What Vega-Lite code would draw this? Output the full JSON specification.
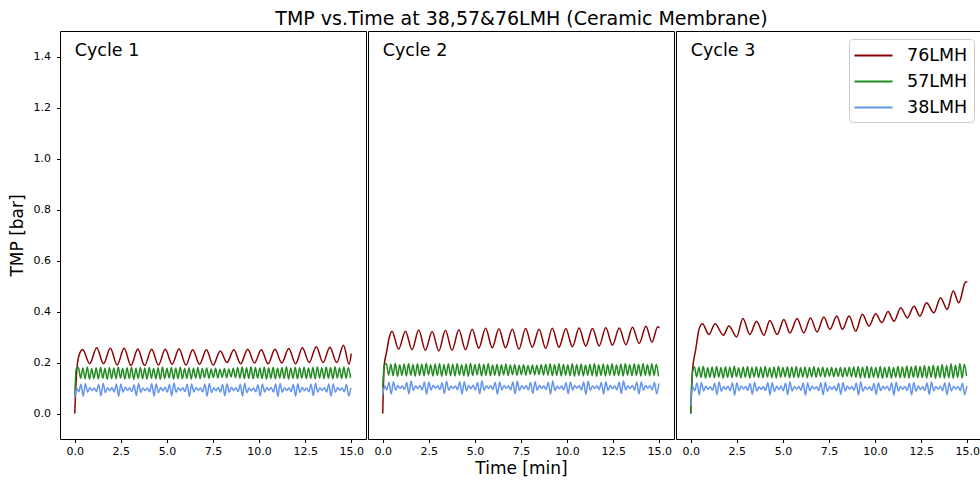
{
"$schema": "https://vega.github.io/schema/vega-lite/v6.json",
"padding": {"left": 7, "top": 9, "right": 1, "bottom": 4},
"spacing": 0,
"title": {"text": "TMP vs.Time at 38,57&76LMH (Ceramic Membrane)", "fontSize": 19, "fontWeight": "normal", "font": "DejaVu Sans", "color": "#000", "offset": 2, "anchor": "start", "align": "center", "dx": 514},
"resolve": {"scale": {"color": "independent"}, "legend": {"color": "independent"}},
"config": {
  "font": "DejaVu Sans",
  "view": {"stroke": "#000", "strokeWidth": 1},
  "axis": {"grid": false, "domain": false, "tickColor": "#000", "tickSize": 3.5, "labelFontSize": 11, "labelColor": "#000", "titleFontSize": 17, "titleFontWeight": "normal", "titleColor": "#000", "labelFlush": false, "labelOverlap": false},
  "axisY": {"labelPadding": 6, "titlePadding": 7},
  "axisX": {"labelPadding": 3, "titlePadding": 4}
},
"datasets": {
"r1": [{"t":0,"v":0},{"t":0.11,"v":0.17},{"t":0.22,"v":0.225},{"t":0.43,"v":0.251},{"t":0.81,"v":0.195},{"t":1.19,"v":0.258},{"t":1.56,"v":0.195},{"t":1.93,"v":0.256},{"t":2.3,"v":0.19},{"t":2.68,"v":0.256},{"t":3.05,"v":0.188},{"t":3.42,"v":0.253},{"t":3.79,"v":0.188},{"t":4.17,"v":0.252},{"t":4.54,"v":0.19},{"t":4.91,"v":0.252},{"t":5.28,"v":0.193},{"t":5.66,"v":0.254},{"t":6.03,"v":0.19},{"t":6.4,"v":0.25},{"t":6.77,"v":0.193},{"t":7.14,"v":0.25},{"t":7.51,"v":0.19},{"t":7.89,"v":0.245},{"t":8.26,"v":0.2},{"t":8.63,"v":0.25},{"t":9.0,"v":0.195},{"t":9.38,"v":0.252},{"t":9.75,"v":0.198},{"t":10.12,"v":0.25},{"t":10.49,"v":0.195},{"t":10.86,"v":0.252},{"t":11.23,"v":0.198},{"t":11.61,"v":0.255},{"t":11.98,"v":0.195},{"t":12.35,"v":0.258},{"t":12.72,"v":0.2},{"t":13.1,"v":0.262},{"t":13.47,"v":0.2},{"t":13.84,"v":0.26},{"t":14.21,"v":0.2},{"t":14.58,"v":0.268},{"t":14.88,"v":0.193},{"t":15.0,"v":0.235}],
"g1": [{"t":0,"v":0.07},{"t":0.08,"v":0.175},{"t":0.2,"v":0.18},{"t":0.32,"v":0.138},{"t":0.44,"v":0.178},{"t":0.56,"v":0.136},{"t":0.68,"v":0.182},{"t":0.8,"v":0.134},{"t":0.92,"v":0.176},{"t":1.04,"v":0.137},{"t":1.16,"v":0.179},{"t":1.28,"v":0.135},{"t":1.4,"v":0.181},{"t":1.52,"v":0.138},{"t":1.64,"v":0.177},{"t":1.76,"v":0.134},{"t":1.88,"v":0.18},{"t":2.0,"v":0.137},{"t":2.12,"v":0.178},{"t":2.24,"v":0.136},{"t":2.36,"v":0.182},{"t":2.48,"v":0.139},{"t":2.6,"v":0.176},{"t":2.72,"v":0.135},{"t":2.84,"v":0.179},{"t":2.96,"v":0.137},{"t":3.08,"v":0.181},{"t":3.2,"v":0.134},{"t":3.32,"v":0.177},{"t":3.44,"v":0.138},{"t":3.56,"v":0.18},{"t":3.68,"v":0.136},{"t":3.8,"v":0.178},{"t":3.92,"v":0.135},{"t":4.04,"v":0.181},{"t":4.16,"v":0.138},{"t":4.28,"v":0.176},{"t":4.4,"v":0.136},{"t":4.52,"v":0.179},{"t":4.64,"v":0.134},{"t":4.76,"v":0.182},{"t":4.88,"v":0.137},{"t":5.0,"v":0.177},{"t":5.12,"v":0.139},{"t":5.24,"v":0.18},{"t":5.36,"v":0.135},{"t":5.48,"v":0.178},{"t":5.6,"v":0.137},{"t":5.72,"v":0.181},{"t":5.84,"v":0.136},{"t":5.96,"v":0.176},{"t":6.08,"v":0.138},{"t":6.2,"v":0.179},{"t":6.32,"v":0.135},{"t":6.44,"v":0.177},{"t":6.56,"v":0.139},{"t":6.68,"v":0.18},{"t":6.8,"v":0.137},{"t":6.92,"v":0.176},{"t":7.04,"v":0.14},{"t":7.16,"v":0.178},{"t":7.28,"v":0.138},{"t":7.4,"v":0.175},{"t":7.52,"v":0.141},{"t":7.64,"v":0.177},{"t":7.76,"v":0.139},{"t":7.88,"v":0.174},{"t":8.0,"v":0.142},{"t":8.12,"v":0.176},{"t":8.24,"v":0.14},{"t":8.36,"v":0.175},{"t":8.48,"v":0.143},{"t":8.6,"v":0.177},{"t":8.72,"v":0.141},{"t":8.84,"v":0.18},{"t":8.96,"v":0.139},{"t":9.08,"v":0.182},{"t":9.2,"v":0.137},{"t":9.32,"v":0.179},{"t":9.44,"v":0.138},{"t":9.56,"v":0.183},{"t":9.68,"v":0.136},{"t":9.8,"v":0.18},{"t":9.92,"v":0.139},{"t":10.04,"v":0.178},{"t":10.16,"v":0.137},{"t":10.28,"v":0.182},{"t":10.4,"v":0.135},{"t":10.52,"v":0.179},{"t":10.64,"v":0.138},{"t":10.76,"v":0.181},{"t":10.88,"v":0.136},{"t":11.0,"v":0.177},{"t":11.12,"v":0.139},{"t":11.24,"v":0.18},{"t":11.36,"v":0.137},{"t":11.48,"v":0.183},{"t":11.6,"v":0.135},{"t":11.72,"v":0.178},{"t":11.84,"v":0.138},{"t":11.96,"v":0.181},{"t":12.08,"v":0.136},{"t":12.2,"v":0.179},{"t":12.32,"v":0.139},{"t":12.44,"v":0.182},{"t":12.56,"v":0.137},{"t":12.68,"v":0.178},{"t":12.8,"v":0.138},{"t":12.92,"v":0.181},{"t":13.04,"v":0.136},{"t":13.16,"v":0.183},{"t":13.28,"v":0.139},{"t":13.4,"v":0.179},{"t":13.52,"v":0.137},{"t":13.64,"v":0.182},{"t":13.76,"v":0.138},{"t":13.88,"v":0.18},{"t":14.0,"v":0.136},{"t":14.12,"v":0.183},{"t":14.24,"v":0.139},{"t":14.36,"v":0.179},{"t":14.48,"v":0.137},{"t":14.6,"v":0.182},{"t":14.72,"v":0.138},{"t":14.84,"v":0.18},{"t":14.96,"v":0.14}],
"b1": [{"t":0,"v":0.06},{"t":0.1,"v":0.101},{"t":0.22,"v":0.085},{"t":0.34,"v":0.115},{"t":0.46,"v":0.068},{"t":0.58,"v":0.117},{"t":0.7,"v":0.083},{"t":0.82,"v":0.102},{"t":0.94,"v":0.09},{"t":1.06,"v":0.1},{"t":1.18,"v":0.086},{"t":1.3,"v":0.114},{"t":1.42,"v":0.069},{"t":1.54,"v":0.119},{"t":1.66,"v":0.082},{"t":1.78,"v":0.101},{"t":1.9,"v":0.089},{"t":2.02,"v":0.102},{"t":2.14,"v":0.084},{"t":2.26,"v":0.116},{"t":2.38,"v":0.067},{"t":2.5,"v":0.116},{"t":2.62,"v":0.084},{"t":2.74,"v":0.103},{"t":2.86,"v":0.091},{"t":2.98,"v":0.101},{"t":3.1,"v":0.086},{"t":3.22,"v":0.113},{"t":3.34,"v":0.07},{"t":3.46,"v":0.118},{"t":3.58,"v":0.083},{"t":3.7,"v":0.1},{"t":3.82,"v":0.09},{"t":3.94,"v":0.1},{"t":4.06,"v":0.085},{"t":4.18,"v":0.117},{"t":4.3,"v":0.068},{"t":4.42,"v":0.117},{"t":4.54,"v":0.081},{"t":4.66,"v":0.102},{"t":4.78,"v":0.089},{"t":4.9,"v":0.103},{"t":5.02,"v":0.084},{"t":5.14,"v":0.114},{"t":5.26,"v":0.069},{"t":5.38,"v":0.12},{"t":5.5,"v":0.083},{"t":5.62,"v":0.101},{"t":5.74,"v":0.09},{"t":5.86,"v":0.101},{"t":5.98,"v":0.086},{"t":6.1,"v":0.115},{"t":6.22,"v":0.067},{"t":6.34,"v":0.116},{"t":6.46,"v":0.084},{"t":6.58,"v":0.102},{"t":6.7,"v":0.091},{"t":6.82,"v":0.1},{"t":6.94,"v":0.085},{"t":7.06,"v":0.116},{"t":7.18,"v":0.068},{"t":7.3,"v":0.118},{"t":7.42,"v":0.082},{"t":7.54,"v":0.101},{"t":7.66,"v":0.089},{"t":7.78,"v":0.102},{"t":7.9,"v":0.084},{"t":8.02,"v":0.114},{"t":8.14,"v":0.07},{"t":8.26,"v":0.117},{"t":8.38,"v":0.083},{"t":8.5,"v":0.103},{"t":8.62,"v":0.09},{"t":8.74,"v":0.101},{"t":8.86,"v":0.086},{"t":8.98,"v":0.115},{"t":9.1,"v":0.068},{"t":9.22,"v":0.119},{"t":9.34,"v":0.082},{"t":9.46,"v":0.1},{"t":9.58,"v":0.089},{"t":9.7,"v":0.1},{"t":9.82,"v":0.085},{"t":9.94,"v":0.113},{"t":10.06,"v":0.069},{"t":10.18,"v":0.116},{"t":10.3,"v":0.084},{"t":10.42,"v":0.102},{"t":10.54,"v":0.091},{"t":10.66,"v":0.102},{"t":10.78,"v":0.084},{"t":10.9,"v":0.116},{"t":11.02,"v":0.067},{"t":11.14,"v":0.118},{"t":11.26,"v":0.083},{"t":11.38,"v":0.101},{"t":11.5,"v":0.09},{"t":11.62,"v":0.101},{"t":11.74,"v":0.086},{"t":11.86,"v":0.114},{"t":11.98,"v":0.068},{"t":12.1,"v":0.117},{"t":12.22,"v":0.082},{"t":12.34,"v":0.103},{"t":12.46,"v":0.089},{"t":12.58,"v":0.1},{"t":12.7,"v":0.085},{"t":12.82,"v":0.115},{"t":12.94,"v":0.07},{"t":13.06,"v":0.119},{"t":13.18,"v":0.084},{"t":13.3,"v":0.101},{"t":13.42,"v":0.09},{"t":13.54,"v":0.102},{"t":13.66,"v":0.084},{"t":13.78,"v":0.116},{"t":13.9,"v":0.068},{"t":14.02,"v":0.116},{"t":14.14,"v":0.083},{"t":14.26,"v":0.102},{"t":14.38,"v":0.091},{"t":14.5,"v":0.101},{"t":14.62,"v":0.085},{"t":14.74,"v":0.114},{"t":14.86,"v":0.069},{"t":14.98,"v":0.1}],
"r2": [{"t":0,"v":0},{"t":0.08,"v":0.19},{"t":0.2,"v":0.238},{"t":0.35,"v":0.297},{"t":0.5,"v":0.323},{"t":0.86,"v":0.252},{"t":1.23,"v":0.323},{"t":1.59,"v":0.25},{"t":1.95,"v":0.327},{"t":2.31,"v":0.248},{"t":2.68,"v":0.322},{"t":3.04,"v":0.245},{"t":3.4,"v":0.326},{"t":3.76,"v":0.248},{"t":4.13,"v":0.328},{"t":4.49,"v":0.25},{"t":4.85,"v":0.33},{"t":5.21,"v":0.256},{"t":5.58,"v":0.334},{"t":5.94,"v":0.258},{"t":6.3,"v":0.332},{"t":6.66,"v":0.258},{"t":7.03,"v":0.33},{"t":7.39,"v":0.252},{"t":7.75,"v":0.333},{"t":8.11,"v":0.26},{"t":8.48,"v":0.33},{"t":8.84,"v":0.255},{"t":9.2,"v":0.334},{"t":9.56,"v":0.26},{"t":9.93,"v":0.332},{"t":10.29,"v":0.262},{"t":10.65,"v":0.335},{"t":11.01,"v":0.265},{"t":11.38,"v":0.333},{"t":11.74,"v":0.265},{"t":12.1,"v":0.336},{"t":12.46,"v":0.268},{"t":12.83,"v":0.335},{"t":13.19,"v":0.27},{"t":13.55,"v":0.338},{"t":13.91,"v":0.275},{"t":14.28,"v":0.342},{"t":14.6,"v":0.28},{"t":14.92,"v":0.34},{"t":15.02,"v":0.335}],
"g2": [{"t":0,"v":0.1},{"t":0.08,"v":0.19},{"t":0.2,"v":0.195},{"t":0.32,"v":0.15},{"t":0.44,"v":0.193},{"t":0.56,"v":0.148},{"t":0.68,"v":0.197},{"t":0.8,"v":0.146},{"t":0.92,"v":0.191},{"t":1.04,"v":0.149},{"t":1.16,"v":0.194},{"t":1.28,"v":0.147},{"t":1.4,"v":0.196},{"t":1.52,"v":0.15},{"t":1.64,"v":0.192},{"t":1.76,"v":0.146},{"t":1.88,"v":0.195},{"t":2.0,"v":0.149},{"t":2.12,"v":0.193},{"t":2.24,"v":0.148},{"t":2.36,"v":0.197},{"t":2.48,"v":0.151},{"t":2.6,"v":0.191},{"t":2.72,"v":0.147},{"t":2.84,"v":0.194},{"t":2.96,"v":0.149},{"t":3.08,"v":0.196},{"t":3.2,"v":0.146},{"t":3.32,"v":0.192},{"t":3.44,"v":0.15},{"t":3.56,"v":0.195},{"t":3.68,"v":0.148},{"t":3.8,"v":0.193},{"t":3.92,"v":0.147},{"t":4.04,"v":0.196},{"t":4.16,"v":0.15},{"t":4.28,"v":0.191},{"t":4.4,"v":0.148},{"t":4.52,"v":0.194},{"t":4.64,"v":0.146},{"t":4.76,"v":0.197},{"t":4.88,"v":0.149},{"t":5.0,"v":0.192},{"t":5.12,"v":0.151},{"t":5.24,"v":0.195},{"t":5.36,"v":0.147},{"t":5.48,"v":0.193},{"t":5.6,"v":0.149},{"t":5.72,"v":0.196},{"t":5.84,"v":0.148},{"t":5.96,"v":0.19},{"t":6.08,"v":0.15},{"t":6.2,"v":0.193},{"t":6.32,"v":0.147},{"t":6.44,"v":0.191},{"t":6.56,"v":0.151},{"t":6.68,"v":0.194},{"t":6.8,"v":0.149},{"t":6.92,"v":0.19},{"t":7.04,"v":0.152},{"t":7.16,"v":0.192},{"t":7.28,"v":0.15},{"t":7.4,"v":0.189},{"t":7.52,"v":0.153},{"t":7.64,"v":0.191},{"t":7.76,"v":0.151},{"t":7.88,"v":0.188},{"t":8.0,"v":0.154},{"t":8.12,"v":0.19},{"t":8.24,"v":0.152},{"t":8.36,"v":0.189},{"t":8.48,"v":0.153},{"t":8.6,"v":0.191},{"t":8.72,"v":0.151},{"t":8.84,"v":0.193},{"t":8.96,"v":0.15},{"t":9.08,"v":0.195},{"t":9.2,"v":0.148},{"t":9.32,"v":0.192},{"t":9.44,"v":0.149},{"t":9.56,"v":0.196},{"t":9.68,"v":0.147},{"t":9.8,"v":0.193},{"t":9.92,"v":0.15},{"t":10.04,"v":0.191},{"t":10.16,"v":0.148},{"t":10.28,"v":0.195},{"t":10.4,"v":0.146},{"t":10.52,"v":0.192},{"t":10.64,"v":0.149},{"t":10.76,"v":0.194},{"t":10.88,"v":0.147},{"t":11.0,"v":0.19},{"t":11.12,"v":0.15},{"t":11.24,"v":0.193},{"t":11.36,"v":0.148},{"t":11.48,"v":0.196},{"t":11.6,"v":0.146},{"t":11.72,"v":0.191},{"t":11.84,"v":0.149},{"t":11.96,"v":0.194},{"t":12.08,"v":0.147},{"t":12.2,"v":0.192},{"t":12.32,"v":0.15},{"t":12.44,"v":0.195},{"t":12.56,"v":0.148},{"t":12.68,"v":0.191},{"t":12.8,"v":0.149},{"t":12.92,"v":0.194},{"t":13.04,"v":0.147},{"t":13.16,"v":0.196},{"t":13.28,"v":0.15},{"t":13.4,"v":0.192},{"t":13.52,"v":0.148},{"t":13.64,"v":0.195},{"t":13.76,"v":0.149},{"t":13.88,"v":0.193},{"t":14.0,"v":0.147},{"t":14.12,"v":0.196},{"t":14.24,"v":0.15},{"t":14.36,"v":0.192},{"t":14.48,"v":0.148},{"t":14.6,"v":0.195},{"t":14.72,"v":0.149},{"t":14.84,"v":0.193},{"t":14.96,"v":0.146}],
"b2": [{"t":0,"v":0.07},{"t":0.1,"v":0.109},{"t":0.22,"v":0.093},{"t":0.34,"v":0.123},{"t":0.46,"v":0.076},{"t":0.58,"v":0.125},{"t":0.7,"v":0.091},{"t":0.82,"v":0.11},{"t":0.94,"v":0.098},{"t":1.06,"v":0.108},{"t":1.18,"v":0.094},{"t":1.3,"v":0.122},{"t":1.42,"v":0.077},{"t":1.54,"v":0.127},{"t":1.66,"v":0.09},{"t":1.78,"v":0.109},{"t":1.9,"v":0.097},{"t":2.02,"v":0.11},{"t":2.14,"v":0.092},{"t":2.26,"v":0.124},{"t":2.38,"v":0.075},{"t":2.5,"v":0.124},{"t":2.62,"v":0.092},{"t":2.74,"v":0.111},{"t":2.86,"v":0.099},{"t":2.98,"v":0.109},{"t":3.1,"v":0.094},{"t":3.22,"v":0.121},{"t":3.34,"v":0.078},{"t":3.46,"v":0.126},{"t":3.58,"v":0.091},{"t":3.7,"v":0.108},{"t":3.82,"v":0.098},{"t":3.94,"v":0.108},{"t":4.06,"v":0.093},{"t":4.18,"v":0.125},{"t":4.3,"v":0.076},{"t":4.42,"v":0.125},{"t":4.54,"v":0.089},{"t":4.66,"v":0.11},{"t":4.78,"v":0.097},{"t":4.9,"v":0.111},{"t":5.02,"v":0.092},{"t":5.14,"v":0.122},{"t":5.26,"v":0.077},{"t":5.38,"v":0.128},{"t":5.5,"v":0.091},{"t":5.62,"v":0.109},{"t":5.74,"v":0.098},{"t":5.86,"v":0.109},{"t":5.98,"v":0.094},{"t":6.1,"v":0.123},{"t":6.22,"v":0.075},{"t":6.34,"v":0.124},{"t":6.46,"v":0.092},{"t":6.58,"v":0.11},{"t":6.7,"v":0.099},{"t":6.82,"v":0.108},{"t":6.94,"v":0.093},{"t":7.06,"v":0.124},{"t":7.18,"v":0.076},{"t":7.3,"v":0.126},{"t":7.42,"v":0.09},{"t":7.54,"v":0.109},{"t":7.66,"v":0.097},{"t":7.78,"v":0.11},{"t":7.9,"v":0.092},{"t":8.02,"v":0.122},{"t":8.14,"v":0.078},{"t":8.26,"v":0.125},{"t":8.38,"v":0.091},{"t":8.5,"v":0.111},{"t":8.62,"v":0.098},{"t":8.74,"v":0.109},{"t":8.86,"v":0.094},{"t":8.98,"v":0.123},{"t":9.1,"v":0.076},{"t":9.22,"v":0.127},{"t":9.34,"v":0.09},{"t":9.46,"v":0.108},{"t":9.58,"v":0.097},{"t":9.7,"v":0.108},{"t":9.82,"v":0.093},{"t":9.94,"v":0.121},{"t":10.06,"v":0.077},{"t":10.18,"v":0.124},{"t":10.3,"v":0.092},{"t":10.42,"v":0.11},{"t":10.54,"v":0.099},{"t":10.66,"v":0.11},{"t":10.78,"v":0.092},{"t":10.9,"v":0.124},{"t":11.02,"v":0.075},{"t":11.14,"v":0.126},{"t":11.26,"v":0.091},{"t":11.38,"v":0.109},{"t":11.5,"v":0.098},{"t":11.62,"v":0.109},{"t":11.74,"v":0.094},{"t":11.86,"v":0.122},{"t":11.98,"v":0.076},{"t":12.1,"v":0.125},{"t":12.22,"v":0.09},{"t":12.34,"v":0.111},{"t":12.46,"v":0.097},{"t":12.58,"v":0.108},{"t":12.7,"v":0.093},{"t":12.82,"v":0.123},{"t":12.94,"v":0.078},{"t":13.06,"v":0.127},{"t":13.18,"v":0.092},{"t":13.3,"v":0.109},{"t":13.42,"v":0.098},{"t":13.54,"v":0.11},{"t":13.66,"v":0.092},{"t":13.78,"v":0.124},{"t":13.9,"v":0.076},{"t":14.02,"v":0.124},{"t":14.14,"v":0.091},{"t":14.26,"v":0.11},{"t":14.38,"v":0.099},{"t":14.5,"v":0.109},{"t":14.62,"v":0.093},{"t":14.74,"v":0.122},{"t":14.86,"v":0.077},{"t":14.98,"v":0.118}],
"r3": [{"t":0,"v":0},{"t":0.09,"v":0.166},{"t":0.27,"v":0.251},{"t":0.45,"v":0.33},{"t":0.63,"v":0.352},{"t":0.99,"v":0.31},{"t":1.32,"v":0.352},{"t":1.77,"v":0.307},{"t":2.07,"v":0.343},{"t":2.49,"v":0.3},{"t":2.83,"v":0.373},{"t":3.21,"v":0.31},{"t":3.57,"v":0.362},{"t":3.97,"v":0.307},{"t":4.29,"v":0.365},{"t":4.69,"v":0.31},{"t":5.05,"v":0.369},{"t":5.38,"v":0.316},{"t":5.77,"v":0.373},{"t":6.13,"v":0.316},{"t":6.5,"v":0.375},{"t":6.85,"v":0.32},{"t":7.22,"v":0.378},{"t":7.55,"v":0.33},{"t":7.92,"v":0.382},{"t":8.23,"v":0.33},{"t":8.59,"v":0.382},{"t":8.95,"v":0.323},{"t":9.31,"v":0.389},{"t":9.67,"v":0.343},{"t":10.03,"v":0.391},{"t":10.37,"v":0.356},{"t":10.7,"v":0.4},{"t":11.03,"v":0.362},{"t":11.39,"v":0.415},{"t":11.75,"v":0.375},{"t":12.11,"v":0.421},{"t":12.43,"v":0.382},{"t":12.79,"v":0.434},{"t":13.19,"v":0.395},{"t":13.55,"v":0.454},{"t":13.91,"v":0.408},{"t":14.24,"v":0.48},{"t":14.54,"v":0.434},{"t":14.9,"v":0.515},{"t":15.0,"v":0.517}],
"g3": [{"t":0,"v":0},{"t":0.08,"v":0.15},{"t":0.2,"v":0.183},{"t":0.32,"v":0.143},{"t":0.44,"v":0.181},{"t":0.56,"v":0.141},{"t":0.68,"v":0.185},{"t":0.8,"v":0.139},{"t":0.92,"v":0.179},{"t":1.04,"v":0.142},{"t":1.16,"v":0.182},{"t":1.28,"v":0.14},{"t":1.4,"v":0.184},{"t":1.52,"v":0.143},{"t":1.64,"v":0.18},{"t":1.76,"v":0.139},{"t":1.88,"v":0.183},{"t":2.0,"v":0.142},{"t":2.12,"v":0.181},{"t":2.24,"v":0.141},{"t":2.36,"v":0.185},{"t":2.48,"v":0.144},{"t":2.6,"v":0.179},{"t":2.72,"v":0.14},{"t":2.84,"v":0.182},{"t":2.96,"v":0.142},{"t":3.08,"v":0.184},{"t":3.2,"v":0.139},{"t":3.32,"v":0.18},{"t":3.44,"v":0.143},{"t":3.56,"v":0.183},{"t":3.68,"v":0.141},{"t":3.8,"v":0.181},{"t":3.92,"v":0.14},{"t":4.04,"v":0.184},{"t":4.16,"v":0.143},{"t":4.28,"v":0.179},{"t":4.4,"v":0.141},{"t":4.52,"v":0.182},{"t":4.64,"v":0.139},{"t":4.76,"v":0.185},{"t":4.88,"v":0.142},{"t":5.0,"v":0.18},{"t":5.12,"v":0.144},{"t":5.24,"v":0.183},{"t":5.36,"v":0.14},{"t":5.48,"v":0.181},{"t":5.6,"v":0.142},{"t":5.72,"v":0.184},{"t":5.84,"v":0.141},{"t":5.96,"v":0.179},{"t":6.08,"v":0.143},{"t":6.2,"v":0.182},{"t":6.32,"v":0.14},{"t":6.44,"v":0.18},{"t":6.56,"v":0.144},{"t":6.68,"v":0.183},{"t":6.8,"v":0.142},{"t":6.92,"v":0.179},{"t":7.04,"v":0.145},{"t":7.16,"v":0.181},{"t":7.28,"v":0.143},{"t":7.4,"v":0.178},{"t":7.52,"v":0.146},{"t":7.64,"v":0.18},{"t":7.76,"v":0.144},{"t":7.88,"v":0.178},{"t":8.0,"v":0.145},{"t":8.12,"v":0.18},{"t":8.24,"v":0.143},{"t":8.36,"v":0.179},{"t":8.48,"v":0.146},{"t":8.6,"v":0.181},{"t":8.72,"v":0.144},{"t":8.84,"v":0.182},{"t":8.96,"v":0.142},{"t":9.08,"v":0.184},{"t":9.2,"v":0.14},{"t":9.32,"v":0.181},{"t":9.44,"v":0.141},{"t":9.56,"v":0.185},{"t":9.68,"v":0.139},{"t":9.8,"v":0.182},{"t":9.92,"v":0.142},{"t":10.04,"v":0.18},{"t":10.16,"v":0.14},{"t":10.28,"v":0.184},{"t":10.4,"v":0.138},{"t":10.52,"v":0.181},{"t":10.64,"v":0.141},{"t":10.76,"v":0.183},{"t":10.88,"v":0.139},{"t":11.0,"v":0.18},{"t":11.12,"v":0.142},{"t":11.24,"v":0.185},{"t":11.36,"v":0.14},{"t":11.48,"v":0.182},{"t":11.6,"v":0.141},{"t":11.72,"v":0.186},{"t":11.84,"v":0.139},{"t":11.96,"v":0.183},{"t":12.08,"v":0.142},{"t":12.2,"v":0.187},{"t":12.32,"v":0.14},{"t":12.44,"v":0.184},{"t":12.56,"v":0.141},{"t":12.68,"v":0.188},{"t":12.8,"v":0.139},{"t":12.92,"v":0.185},{"t":13.04,"v":0.142},{"t":13.16,"v":0.189},{"t":13.28,"v":0.138},{"t":13.4,"v":0.186},{"t":13.52,"v":0.141},{"t":13.64,"v":0.192},{"t":13.76,"v":0.139},{"t":13.88,"v":0.188},{"t":14.0,"v":0.14},{"t":14.12,"v":0.195},{"t":14.24,"v":0.138},{"t":14.36,"v":0.19},{"t":14.48,"v":0.141},{"t":14.6,"v":0.196},{"t":14.72,"v":0.139},{"t":14.84,"v":0.193},{"t":14.96,"v":0.147}],
"b3": [{"t":0,"v":0.03},{"t":0.1,"v":0.106},{"t":0.22,"v":0.09},{"t":0.34,"v":0.12},{"t":0.46,"v":0.073},{"t":0.58,"v":0.122},{"t":0.7,"v":0.088},{"t":0.82,"v":0.107},{"t":0.94,"v":0.095},{"t":1.06,"v":0.105},{"t":1.18,"v":0.091},{"t":1.3,"v":0.119},{"t":1.42,"v":0.074},{"t":1.54,"v":0.124},{"t":1.66,"v":0.087},{"t":1.78,"v":0.106},{"t":1.9,"v":0.094},{"t":2.02,"v":0.107},{"t":2.14,"v":0.089},{"t":2.26,"v":0.121},{"t":2.38,"v":0.072},{"t":2.5,"v":0.121},{"t":2.62,"v":0.089},{"t":2.74,"v":0.108},{"t":2.86,"v":0.096},{"t":2.98,"v":0.106},{"t":3.1,"v":0.091},{"t":3.22,"v":0.118},{"t":3.34,"v":0.075},{"t":3.46,"v":0.123},{"t":3.58,"v":0.088},{"t":3.7,"v":0.105},{"t":3.82,"v":0.095},{"t":3.94,"v":0.105},{"t":4.06,"v":0.09},{"t":4.18,"v":0.122},{"t":4.3,"v":0.073},{"t":4.42,"v":0.122},{"t":4.54,"v":0.086},{"t":4.66,"v":0.107},{"t":4.78,"v":0.094},{"t":4.9,"v":0.108},{"t":5.02,"v":0.089},{"t":5.14,"v":0.119},{"t":5.26,"v":0.074},{"t":5.38,"v":0.125},{"t":5.5,"v":0.088},{"t":5.62,"v":0.106},{"t":5.74,"v":0.095},{"t":5.86,"v":0.106},{"t":5.98,"v":0.091},{"t":6.1,"v":0.12},{"t":6.22,"v":0.072},{"t":6.34,"v":0.121},{"t":6.46,"v":0.089},{"t":6.58,"v":0.107},{"t":6.7,"v":0.096},{"t":6.82,"v":0.105},{"t":6.94,"v":0.09},{"t":7.06,"v":0.121},{"t":7.18,"v":0.073},{"t":7.3,"v":0.123},{"t":7.42,"v":0.087},{"t":7.54,"v":0.106},{"t":7.66,"v":0.094},{"t":7.78,"v":0.107},{"t":7.9,"v":0.089},{"t":8.02,"v":0.119},{"t":8.14,"v":0.075},{"t":8.26,"v":0.122},{"t":8.38,"v":0.088},{"t":8.5,"v":0.108},{"t":8.62,"v":0.095},{"t":8.74,"v":0.106},{"t":8.86,"v":0.091},{"t":8.98,"v":0.12},{"t":9.1,"v":0.073},{"t":9.22,"v":0.124},{"t":9.34,"v":0.087},{"t":9.46,"v":0.105},{"t":9.58,"v":0.094},{"t":9.7,"v":0.105},{"t":9.82,"v":0.09},{"t":9.94,"v":0.118},{"t":10.06,"v":0.074},{"t":10.18,"v":0.121},{"t":10.3,"v":0.089},{"t":10.42,"v":0.107},{"t":10.54,"v":0.096},{"t":10.66,"v":0.107},{"t":10.78,"v":0.089},{"t":10.9,"v":0.121},{"t":11.02,"v":0.072},{"t":11.14,"v":0.123},{"t":11.26,"v":0.088},{"t":11.38,"v":0.106},{"t":11.5,"v":0.095},{"t":11.62,"v":0.106},{"t":11.74,"v":0.091},{"t":11.86,"v":0.119},{"t":11.98,"v":0.073},{"t":12.1,"v":0.122},{"t":12.22,"v":0.087},{"t":12.34,"v":0.108},{"t":12.46,"v":0.094},{"t":12.58,"v":0.105},{"t":12.7,"v":0.09},{"t":12.82,"v":0.12},{"t":12.94,"v":0.075},{"t":13.06,"v":0.124},{"t":13.18,"v":0.089},{"t":13.3,"v":0.106},{"t":13.42,"v":0.095},{"t":13.54,"v":0.107},{"t":13.66,"v":0.089},{"t":13.78,"v":0.121},{"t":13.9,"v":0.073},{"t":14.02,"v":0.121},{"t":14.14,"v":0.088},{"t":14.26,"v":0.107},{"t":14.38,"v":0.096},{"t":14.5,"v":0.106},{"t":14.62,"v":0.09},{"t":14.74,"v":0.119},{"t":14.86,"v":0.074},{"t":14.98,"v":0.108}],
"lab1": [{"label": "Cycle 1"}],
"lab2": [{"label": "Cycle 2"}],
"lab3": [{"label": "Cycle 3"}]
},
"hconcat": [
{
  "width": 306, "height": 408,
  "layer": [
    {"data": {"name": "r1"}, "mark": {"type": "line", "strokeWidth": 1.5, "interpolate": "monotone"}, "encoding": {
      "x": {"field": "t", "type": "quantitative", "scale": {"domain": [-0.8, 15.8], "nice": false, "zero": false}, "axis": {"values": [0, 2.5, 5, 7.5, 10, 12.5, 15], "format": ".1f", "title": null}},
      "y": {"field": "v", "type": "quantitative", "scale": {"domain": [-0.1, 1.5], "nice": false, "zero": false}, "axis": {"values": [0, 0.2, 0.4, 0.6, 0.8, 1.0, 1.2, 1.4], "format": ".1f", "title": "TMP [bar]"}},
      "color": {"datum": "76LMH", "type": "nominal", "scale": {"domain": ["76LMH", "57LMH", "38LMH"], "range": ["#8b0000", "#228b22", "#6495ed"]}, "legend": null}}},
    {"data": {"name": "g1"}, "mark": {"type": "line", "strokeWidth": 1.5, "interpolate": "monotone"}, "encoding": {
      "x": {"field": "t", "type": "quantitative"}, "y": {"field": "v", "type": "quantitative"},
      "color": {"datum": "57LMH", "type": "nominal", "scale": {"domain": ["76LMH", "57LMH", "38LMH"], "range": ["#8b0000", "#228b22", "#6495ed"]}, "legend": null}}},
    {"data": {"name": "b1"}, "mark": {"type": "line", "strokeWidth": 1.5, "interpolate": "monotone"}, "encoding": {
      "x": {"field": "t", "type": "quantitative"}, "y": {"field": "v", "type": "quantitative"},
      "color": {"datum": "38LMH", "type": "nominal", "scale": {"domain": ["76LMH", "57LMH", "38LMH"], "range": ["#8b0000", "#228b22", "#6495ed"]}, "legend": null}}},
    {"data": {"name": "lab1"}, "mark": {"type": "text", "align": "left", "baseline": "middle", "fontSize": 17.5, "color": "#000"}, "encoding": {"x": {"datum": 0, "type": "quantitative"}, "y": {"datum": 1.42, "type": "quantitative"}, "text": {"field": "label"}}}
  ]
},
{
  "width": 306, "height": 408,
  "layer": [
    {"data": {"name": "r2"}, "mark": {"type": "line", "strokeWidth": 1.5, "interpolate": "monotone"}, "encoding": {
      "x": {"field": "t", "type": "quantitative", "scale": {"domain": [-0.8, 15.8], "nice": false, "zero": false}, "axis": {"values": [0, 2.5, 5, 7.5, 10, 12.5, 15], "format": ".1f", "title": "Time [min]"}},
      "y": {"field": "v", "type": "quantitative", "scale": {"domain": [-0.1, 1.5], "nice": false, "zero": false}, "axis": null},
      "color": {"datum": "76LMH", "type": "nominal", "scale": {"domain": ["76LMH", "57LMH", "38LMH"], "range": ["#8b0000", "#228b22", "#6495ed"]}, "legend": null}}},
    {"data": {"name": "g2"}, "mark": {"type": "line", "strokeWidth": 1.5, "interpolate": "monotone"}, "encoding": {
      "x": {"field": "t", "type": "quantitative"}, "y": {"field": "v", "type": "quantitative", "axis": null},
      "color": {"datum": "57LMH", "type": "nominal", "scale": {"domain": ["76LMH", "57LMH", "38LMH"], "range": ["#8b0000", "#228b22", "#6495ed"]}, "legend": null}}},
    {"data": {"name": "b2"}, "mark": {"type": "line", "strokeWidth": 1.5, "interpolate": "monotone"}, "encoding": {
      "x": {"field": "t", "type": "quantitative"}, "y": {"field": "v", "type": "quantitative", "axis": null},
      "color": {"datum": "38LMH", "type": "nominal", "scale": {"domain": ["76LMH", "57LMH", "38LMH"], "range": ["#8b0000", "#228b22", "#6495ed"]}, "legend": null}}},
    {"data": {"name": "lab2"}, "mark": {"type": "text", "align": "left", "baseline": "middle", "fontSize": 17.5, "color": "#000"}, "encoding": {"x": {"datum": 0, "type": "quantitative"}, "y": {"datum": 1.42, "type": "quantitative", "axis": null}, "text": {"field": "label"}}}
  ]
},
{
  "width": 306, "height": 408,
  "layer": [
    {"data": {"name": "r3"}, "mark": {"type": "line", "strokeWidth": 1.5, "interpolate": "monotone"}, "encoding": {
      "x": {"field": "t", "type": "quantitative", "scale": {"domain": [-0.8, 15.8], "nice": false, "zero": false}, "axis": {"values": [0, 2.5, 5, 7.5, 10, 12.5, 15], "format": ".1f", "title": null}},
      "y": {"field": "v", "type": "quantitative", "scale": {"domain": [-0.1, 1.5], "nice": false, "zero": false}, "axis": null},
      "color": {"datum": "76LMH", "type": "nominal", "scale": {"domain": ["76LMH", "57LMH", "38LMH"], "range": ["#8b0000", "#228b22", "#6495ed"]}, "legend": {"orient": "top-right", "title": null, "symbolType": "M-2,0H2", "symbolSize": 361, "symbolStrokeWidth": 2, "symbolOffset": 8, "labelFontSize": 17.5, "labelColor": "#000", "labelOffset": 23, "rowPadding": 7, "padding": 6, "strokeColor": "#cccccc", "fillColor": "#ffffff", "cornerRadius": 4, "offset": 8}}}},
    {"data": {"name": "g3"}, "mark": {"type": "line", "strokeWidth": 1.5, "interpolate": "monotone"}, "encoding": {
      "x": {"field": "t", "type": "quantitative"}, "y": {"field": "v", "type": "quantitative", "axis": null},
      "color": {"datum": "57LMH", "type": "nominal", "scale": {"domain": ["76LMH", "57LMH", "38LMH"], "range": ["#8b0000", "#228b22", "#6495ed"]}}}},
    {"data": {"name": "b3"}, "mark": {"type": "line", "strokeWidth": 1.5, "interpolate": "monotone"}, "encoding": {
      "x": {"field": "t", "type": "quantitative"}, "y": {"field": "v", "type": "quantitative", "axis": null},
      "color": {"datum": "38LMH", "type": "nominal", "scale": {"domain": ["76LMH", "57LMH", "38LMH"], "range": ["#8b0000", "#228b22", "#6495ed"]}}}},
    {"data": {"name": "lab3"}, "mark": {"type": "text", "align": "left", "baseline": "middle", "fontSize": 17.5, "color": "#000"}, "encoding": {"x": {"datum": 0, "type": "quantitative"}, "y": {"datum": 1.42, "type": "quantitative", "axis": null}, "text": {"field": "label"}}}
  ]
}
]
}
